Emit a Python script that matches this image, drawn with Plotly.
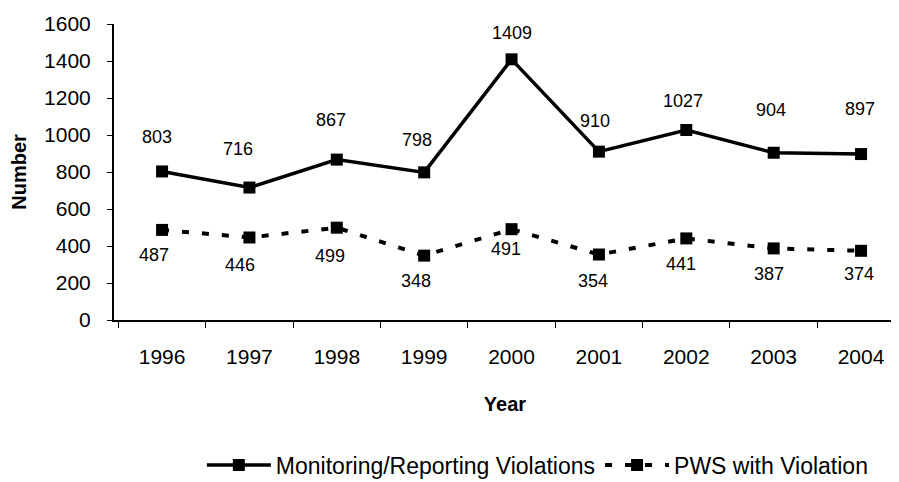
import plotly.graph_objects as go

years = ["1996", "1997", "1998", "1999", "2000", "2001", "2002", "2003", "2004"]
monitoring = [803, 716, 867, 798, 1409, 910, 1027, 904, 897]
pws = [487, 446, 499, 348, 491, 354, 441, 387, 374]
y_ticks = [0, 200, 400, 600, 800, 1000, 1200, 1400, 1600]

# label placement (pixel offsets from each marker), styling only
mon_label_dy = [34, 39, 40, 32, 26, 31, 29, 43, 45]
mon_label_dx = [-5, -11, -6, -7, 0, -4, -3, -3, -1]
pws_label_dy = [25, 28, 28, 25, 20, 26, 26, 26, 23]
pws_label_dx = [-8, -9, -7, -8, -6, -6, -5, -5, -2]

FONT = "Liberation Sans, Arial, sans-serif"

fig = go.Figure()
fig.add_trace(go.Scatter(
    x=years, y=monitoring, mode="lines+markers",
    name="Monitoring/Reporting Violations",
    line=dict(color="black", width=3.5),
    marker=dict(symbol="square", size=12, color="black"),
))
fig.add_trace(go.Scatter(
    x=years, y=pws, mode="lines+markers",
    name="PWS with Violation",
    line=dict(color="black", width=4, dash="7px,13px"),
    marker=dict(symbol="square", size=12, color="black"),
))

for i, yv in enumerate(monitoring):
    fig.add_annotation(x=i, y=yv, xref="x", yref="y", text=str(yv), showarrow=False,
                       yshift=mon_label_dy[i], xshift=mon_label_dx[i],
                       font=dict(family=FONT, size=18, color="black"))
for i, yv in enumerate(pws):
    fig.add_annotation(x=i, y=yv, xref="x", yref="y", text=str(yv), showarrow=False,
                       yshift=-pws_label_dy[i], xshift=pws_label_dx[i],
                       font=dict(family=FONT, size=18, color="black"))

fig.update_layout(
    width=891, height=474,
    margin=dict(l=106, r=3, t=16, b=162, autoexpand=False),
    paper_bgcolor="white", plot_bgcolor="white",
    font=dict(family=FONT, color="black", size=20),
    showlegend=True,
    legend=dict(orientation="h", x=0.542, xanchor="center", y=-0.49, yanchor="middle",
                font=dict(family=FONT, size=23, color="black"), itemwidth=64,
                traceorder="normal"),
)
fig.update_xaxes(
    type="category", range=[-0.55, 8.4], automargin=False,
    showline=True, linecolor="black", linewidth=1.5,
    ticks="outside", tickson="boundaries", ticklen=6, tickcolor="black",
    showgrid=False, zeroline=False,
    tickfont=dict(family=FONT, size=21), ticklabelstandoff=17,
    title=dict(text="<b>Year</b>", font=dict(family=FONT, size=20), standoff=30),
)
fig.update_yaxes(
    range=[0, 1600], tickvals=y_ticks, automargin=False,
    showline=True, linecolor="black", linewidth=2,
    ticks="outside", ticklen=5, tickcolor="black",
    showgrid=False, zeroline=False,
    tickfont=dict(family=FONT, size=21), ticklabelstandoff=12,
    title=dict(text="<b>Number</b>", font=dict(family=FONT, size=20), standoff=15),
)

fig.write_html("out.html")
